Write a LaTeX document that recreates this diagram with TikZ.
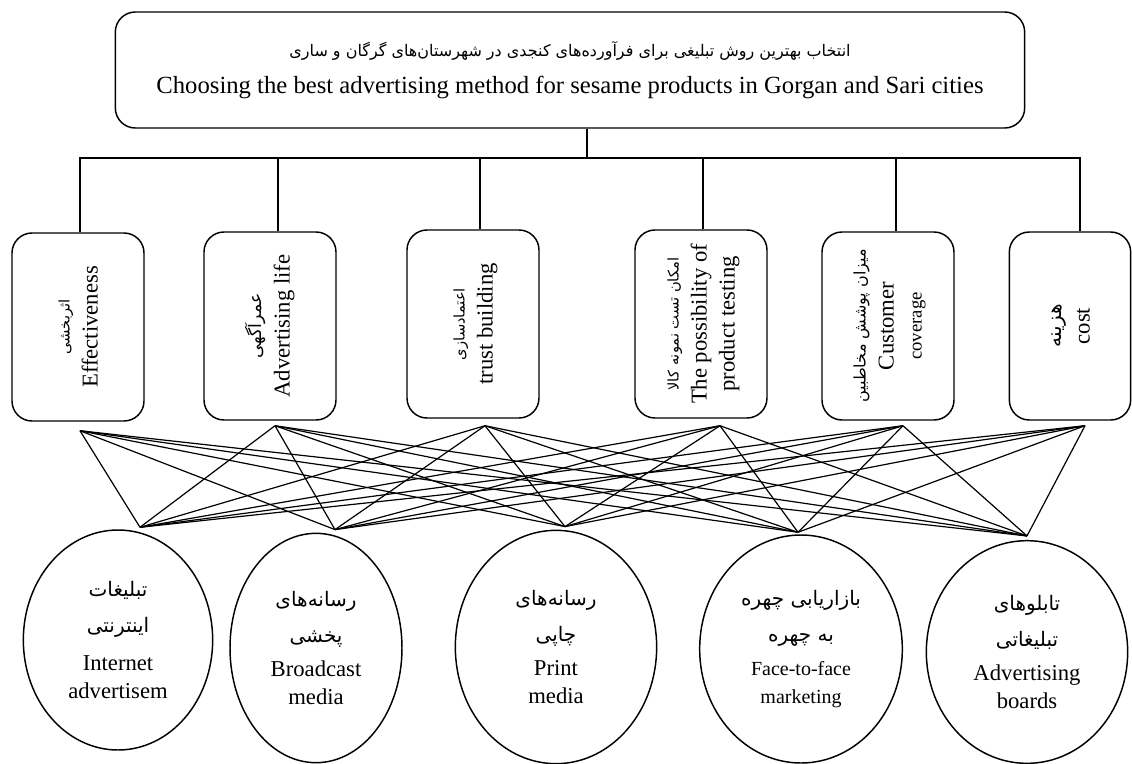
\documentclass[tikz,border=0pt]{standalone}
\usepackage{fontspec}
\setmainfont{Liberation Serif}
\newfontfamily\fafont[Script=Arabic]{DejaVu Sans}
\TeXXeTstate=1
\usetikzlibrary{calc,shapes.geometric}

\newcommand{\fasize}[1]{\fontsize{#1}{#1}\selectfont\fafont}

\begin{document}
\begin{tikzpicture}[x=0.75pt,y=-0.75pt,
    font=\fontsize{17}{21}\selectfont,
    crit/.style={draw,line width=1.1pt,rounded corners=15pt,minimum width=99pt,minimum height=141pt,inner sep=0pt},
    alt/.style={draw,ellipse,line width=1.1pt,inner sep=0pt,align=center},
    link/.style={line width=0.9pt}]
  \useasboundingbox (0,0) rectangle (1132,764);

  \node[draw,line width=1.1pt,rounded corners=15pt,minimum width=682pt,minimum height=87pt,align=center] (goal) at (570,70)
    {{\fasize{12}\beginR انتخاب بهترین روش تبلیغی برای فرآورده‌های کنجدی در شهرستان‌های گرگان و ساری\endR}\\[7pt]
     {\fontsize{18.5}{21}\selectfont Choosing the best advertising method for sesame products in Gorgan and Sari cities}};

  % criteria
  \node[crit] (c1) at (78,327) {\rotatebox{90}{\begin{tabular}{c}{\fasize{11}\beginR اثربخشی\endR}\\Effectiveness\end{tabular}}};
  \node[crit] (c2) at (270,326) {\rotatebox{90}{\begin{tabular}{c}{\fasize{13}\beginR عمرآگهی\endR}\\Advertising life\end{tabular}}};
  \node[crit] (c3) at (473,324) {\rotatebox{90}{\begin{tabular}{c}{\fasize{11}\beginR اعتمادسازی\endR}\\trust building\end{tabular}}};
  \node[crit] (c4) at (701,324) {\rotatebox{90}{\begin{tabular}{c}{\fasize{11}\beginR امکان تست نمونه کالا\endR}\\The possibility of\\product testing\end{tabular}}};
  \node[crit] (c5) at (888,326) {\rotatebox{90}{\begin{tabular}{c}{\fasize{12}\beginR میزان پوشش مخاطبین\endR}\\Customer\\{\fontsize{14}{16}\selectfont coverage}\end{tabular}}};
  \node[crit,minimum width=91pt] (c6) at (1070,326) {\rotatebox{90}{\begin{tabular}{c}{\fasize{15}\beginR هزینه\endR}\\cost\end{tabular}}};

  % tree from the goal down to the criteria
  \coordinate (bus) at (587,158);
  \draw[link] ($(goal.south)+(17,0)$) -- (bus);
  \draw[link] ($(c1.north)+(2,0)$) |- (bus) -| ($(c6.north)+(10,0)$);
  \foreach \i/\dx in {2/8,3/7,4/2,5/8}
    \draw[link] ($(c\i.north)+(\dx,0)$) -- ($(c\i.north |- bus)+(\dx,0)$);

  % alternatives
  \node[alt,minimum width=142pt,minimum height=165pt] (a1) at (118,640)
    {{\fasize{15}\beginR تبلیغات\endR}\\[6pt]{\fasize{15}\beginR اینترنتی\endR}\\[7pt]Internet\\advertisem};
  \node[alt,minimum width=129pt,minimum height=172pt] (a2) at (316,648)
    {{\fasize{15}\beginR رسانه‌های\endR}\\[6pt]{\fasize{15}\beginR پخشی\endR}\\[5pt]Broadcast\\media};
  \node[alt,minimum width=151pt,minimum height=175pt] (a3) at (556,647)
    {{\fasize{15}\beginR رسانه‌های\endR}\\[6pt]{\fasize{15}\beginR چاپی\endR}\\[5pt]Print\\media};
  \node[alt,minimum width=152pt,minimum height=171pt] (a4) at (801,649)
    {{\fasize{15}\beginR بازاریابی چهره\endR}\\[6pt]{\fasize{15}\beginR به چهره\endR}\\[5pt]{\fontsize{15}{18}\selectfont Face-to-face}\\{\fontsize{15}{18}\selectfont marketing}};
  \node[alt,minimum width=151pt,minimum height=167pt] (a5) at (1027,652)
    {{\fasize{15}\beginR تابلوهای\endR}\\[6pt]{\fasize{15}\beginR تبلیغاتی\endR}\\[5pt]Advertising\\boards};

  % every criterion to every alternative
  \coordinate (out1) at ($(c1.south)+(2,9)$);
  \coordinate (out2) at ($(c2.south)+(5,5)$);
  \coordinate (out3) at ($(c3.south)+(12,7)$);
  \coordinate (out4) at ($(c4.south)+(19,7)$);
  \coordinate (out5) at ($(c5.south)+(15,5)$);
  \coordinate (out6) at ($(c6.south)+(15,5)$);
  \coordinate (in1) at ($(a1.north)+(22,-2)$);
  \coordinate (in2) at ($(a2.north)+(19,-3)$);
  \coordinate (in3) at ($(a3.north)+(9,-3)$);
  \coordinate (in4) at ($(a4.north)+(-3,-2)$);
  \coordinate (in5) at ($(a5.north)+(0,-4)$);
  \foreach \i in {1,...,6}
    \foreach \j in {1,...,5}
      \draw[link] (out\i) -- (in\j);
\end{tikzpicture}
\end{document}
